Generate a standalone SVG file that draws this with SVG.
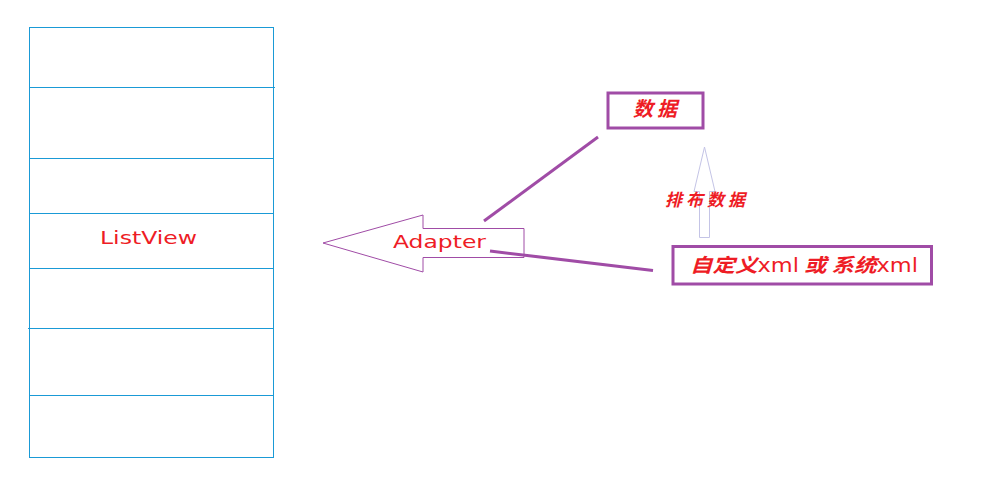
<svg xmlns="http://www.w3.org/2000/svg" width="990" height="483" viewBox="0 0 990 483">
<style>
.lv{fill:none;stroke:#1a9ad6;stroke-width:1}
.t{fill:#ee1c25;font-family:"DejaVu Sans",Verdana,sans-serif;font-size:17px}
.c{fill:#ee1c25;font-family:"Noto Sans CJK SC",sans-serif;font-weight:bold;font-style:italic;font-size:20px}
.x{font-weight:normal;font-style:normal;font-family:"DejaVu Sans",Verdana,sans-serif}
.pbox{fill:none;stroke:#a04ca6;stroke-width:3}
.pl{stroke:#a04ca6;stroke-width:3;fill:none}
</style>
<rect width="990" height="483" fill="#fff"/>
<g id="listview">
<rect class="lv" x="29.5" y="27.5" width="244" height="430"/>
<line class="lv" x1="29.5" y1="87.5" x2="275" y2="87.5"/>
<line class="lv" x1="29.5" y1="158.5" x2="273.5" y2="158.5"/>
<line class="lv" x1="29.5" y1="213.5" x2="273.5" y2="213.5"/>
<line class="lv" x1="29.5" y1="268.5" x2="273.5" y2="268.5"/>
<line class="lv" x1="28" y1="328.5" x2="273.5" y2="328.5"/>
<line class="lv" x1="29.5" y1="395.5" x2="273.5" y2="395.5"/>
<text class="t" x="100" y="244" textLength="97" lengthAdjust="spacingAndGlyphs">ListView</text>
</g>
<g id="adapter">
<polygon points="323,243 423,215 423,228.5 524,228.5 524,257.5 423,257.5 423,272" fill="none" stroke="#a04ca6" stroke-width="1"/>
<text class="t" x="393" y="248" textLength="93" lengthAdjust="spacingAndGlyphs">Adapter</text>
</g>
<g id="data">
<rect class="pbox" x="608" y="93" width="95" height="35"/>
<text class="c" x="633" y="116" textLength="44" lengthAdjust="spacing">数据</text>
</g>
<g id="xml">
<rect class="pbox" x="673" y="246.5" width="258.5" height="37.5"/>
<text class="c" x="690" y="272" textLength="228" lengthAdjust="spacingAndGlyphs" style="font-size:19px">自定义<tspan class="x">xml</tspan> 或 系统<tspan class="x">xml</tspan></text>
</g>
<g id="connectors">
<line class="pl" x1="484" y1="221" x2="598" y2="137"/>
<line class="pl" x1="490" y1="251" x2="653" y2="270.5"/>
<polygon points="704.5,147 715,191.5 709.5,191.5 709.5,237.5 699.5,237.5 699.5,191.5 694,191.5" fill="none" stroke="#c4c4e6" stroke-width="1"/>
<text class="c" x="665" y="206" textLength="80" lengthAdjust="spacing" style="font-size:17px">排布数据</text>
</g>
</svg>
